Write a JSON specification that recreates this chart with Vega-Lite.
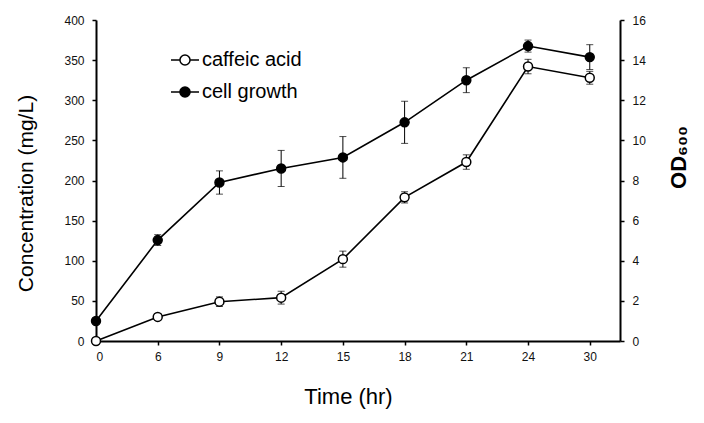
{
  "$schema": "https://vega.github.io/schema/vega-lite/v6.json",
  "width": 524,
  "height": 321,
  "autosize": {"type": "none"},
  "padding": {"left": 96, "top": 20, "right": 84, "bottom": 82},
  "background": "white",
  "config": {
    "view": {"stroke": null},
    "font": "Liberation Sans",
    "axis": {
      "grid": false,
      "domainColor": "black",
      "domainWidth": 2,
      "tickColor": "black",
      "tickWidth": 1.5,
      "tickSize": 4,
      "labelFont": "Liberation Sans",
      "labelFontSize": 12,
      "labelColor": "#111",
      "labelPadding": 8,
      "titleFont": "Liberation Sans",
      "titleFontWeight": "normal",
      "titleColor": "black"
    }
  },
  "datasets": {
    "caffeic": [
      {"series": "caffeic acid", "idx": 0, "time": "0", "value": 0, "lo": -1, "hi": 1},
      {"series": "caffeic acid", "idx": 1, "time": "6", "value": 30, "lo": 26, "hi": 34},
      {"series": "caffeic acid", "idx": 2, "time": "9", "value": 49, "lo": 43, "hi": 55},
      {"series": "caffeic acid", "idx": 3, "time": "12", "value": 54, "lo": 46, "hi": 62},
      {"series": "caffeic acid", "idx": 4, "time": "15", "value": 102, "lo": 92, "hi": 112},
      {"series": "caffeic acid", "idx": 5, "time": "18", "value": 179, "lo": 172, "hi": 186},
      {"series": "caffeic acid", "idx": 6, "time": "21", "value": 223, "lo": 214, "hi": 232},
      {"series": "caffeic acid", "idx": 7, "time": "24", "value": 342, "lo": 333, "hi": 351},
      {"series": "caffeic acid", "idx": 8, "time": "30", "value": 328, "lo": 320, "hi": 336}
    ],
    "cell": [
      {"series": "cell growth", "idx": 0, "time": "0", "value": 1.0, "lo": 0.9, "hi": 1.1},
      {"series": "cell growth", "idx": 1, "time": "6", "value": 5.03, "lo": 4.76, "hi": 5.3},
      {"series": "cell growth", "idx": 2, "time": "9", "value": 7.9, "lo": 7.32, "hi": 8.48},
      {"series": "cell growth", "idx": 3, "time": "12", "value": 8.6, "lo": 7.7, "hi": 9.5},
      {"series": "cell growth", "idx": 4, "time": "15", "value": 9.15, "lo": 8.11, "hi": 10.19},
      {"series": "cell growth", "idx": 5, "time": "18", "value": 10.9, "lo": 9.85, "hi": 11.95},
      {"series": "cell growth", "idx": 6, "time": "21", "value": 13.0, "lo": 12.38, "hi": 13.62},
      {"series": "cell growth", "idx": 7, "time": "24", "value": 14.7, "lo": 14.4, "hi": 15.0},
      {"series": "cell growth", "idx": 8, "time": "30", "value": 14.15, "lo": 13.53, "hi": 14.77}
    ]
  },
  "encoding": {
    "x": {
      "field": "idx",
      "type": "quantitative",
      "scale": {"domain": [0, 8.49], "nice": false, "zero": false},
      "axis": {
        "values": [0, 1, 2, 3, 4, 5, 6, 7, 8],
        "labelExpr": "['0','6','9','12','15','18','21','24','30'][datum.value]",
        "title": "Time (hr)",
        "titleFontSize": 22,
        "titleX": 252,
        "titleY": 55,
        "titleBaseline": "middle",
        "titleAlign": "center",
        "labelPadding": 6
      }
    }
  },
  "layer": [
    {
      "data": {"name": "caffeic"},
      "layer": [
        {
          "mark": {"type": "errorbar", "color": "black", "ticks": {"size": 7, "color": "black", "thickness": 1}, "rule": {"strokeWidth": 1, "color": "black"}},
          "encoding": {
            "y": {"field": "lo", "type": "quantitative", "scale": {"domain": [0, 400], "nice": false}, "title": "Concentration (mg/L)"},
            "y2": {"field": "hi"}
          }
        },
        {
          "mark": {"type": "line", "color": "black", "strokeWidth": 1.6},
          "encoding": {
            "y": {"field": "value", "type": "quantitative", "scale": {"domain": [0, 400], "nice": false}, "title": "Concentration (mg/L)"}
          }
        },
        {
          "mark": {"type": "point", "shape": "circle", "filled": true, "size": 80, "stroke": "black", "strokeWidth": 1.5, "opacity": 1},
          "encoding": {
            "y": {
              "field": "value",
              "type": "quantitative",
              "scale": {"domain": [0, 400], "nice": false},
              "axis": {
                "orient": "left",
                "values": [0, 50, 100, 150, 200, 250, 300, 350, 400],
                "title": "Concentration (mg/L)",
                "titleFontSize": 21,
                "titleX": -70,
                "titleY": 173,
                "titleAngle": -90,
                "titleBaseline": "middle",
                "titleAlign": "center"
              }
            },
            "fill": {
              "field": "series",
              "type": "nominal",
              "scale": {"domain": ["caffeic acid", "cell growth"], "range": ["white", "black"]},
              "legend": {
                "title": null,
                "orient": "none",
                "legendX": 74,
                "legendY": 25,
                "symbolType": "M-1,0H-0.36M0.36,0H1M0.36,0A0.36,0.36,0,1,1,-0.36,0A0.36,0.36,0,1,1,0.36,0Z",
                "symbolSize": 784,
                "symbolStrokeColor": "black",
                "symbolStrokeWidth": 1.5,
                "symbolOpacity": 1,
                "labelFont": "Liberation Sans",
                "labelFontSize": 20,
                "labelColor": "black",
                "labelOffset": 2,
                "rowPadding": 7,
                "encode": {"symbols": {"update": {"stroke": {"value": "black"}, "strokeWidth": {"value": 1.5}, "opacity": {"value": 1}}}}
              }
            }
          }
        }
      ]
    },
    {
      "data": {"name": "cell"},
      "layer": [
        {
          "mark": {"type": "errorbar", "color": "black", "ticks": {"size": 7, "color": "black", "thickness": 1}, "rule": {"strokeWidth": 1, "color": "black"}},
          "encoding": {
            "y": {"field": "lo", "type": "quantitative", "scale": {"domain": [0, 16], "nice": false}, "title": "OD₆₀₀"},
            "y2": {"field": "hi"}
          }
        },
        {
          "mark": {"type": "line", "color": "black", "strokeWidth": 1.6},
          "encoding": {
            "y": {"field": "value", "type": "quantitative", "scale": {"domain": [0, 16], "nice": false}, "title": "OD₆₀₀"}
          }
        },
        {
          "mark": {"type": "point", "shape": "circle", "filled": true, "size": 80, "stroke": "black", "strokeWidth": 1.5, "opacity": 1},
          "encoding": {
            "y": {
              "field": "value",
              "type": "quantitative",
              "scale": {"domain": [0, 16], "nice": false},
              "axis": {
                "orient": "right",
                "values": [0, 2, 4, 6, 8, 10, 12, 14, 16],
                "title": "OD₆₀₀",
                "titleFontSize": 22,
                "titleFontWeight": "bold",
                "titleX": 58,
                "titleY": 137,
                "titleAngle": -90,
                "titleBaseline": "middle",
                "titleAlign": "center"
              }
            },
            "fill": {"field": "series", "type": "nominal"}
          }
        }
      ]
    }
  ],
  "resolve": {"scale": {"y": "independent"}}
}
